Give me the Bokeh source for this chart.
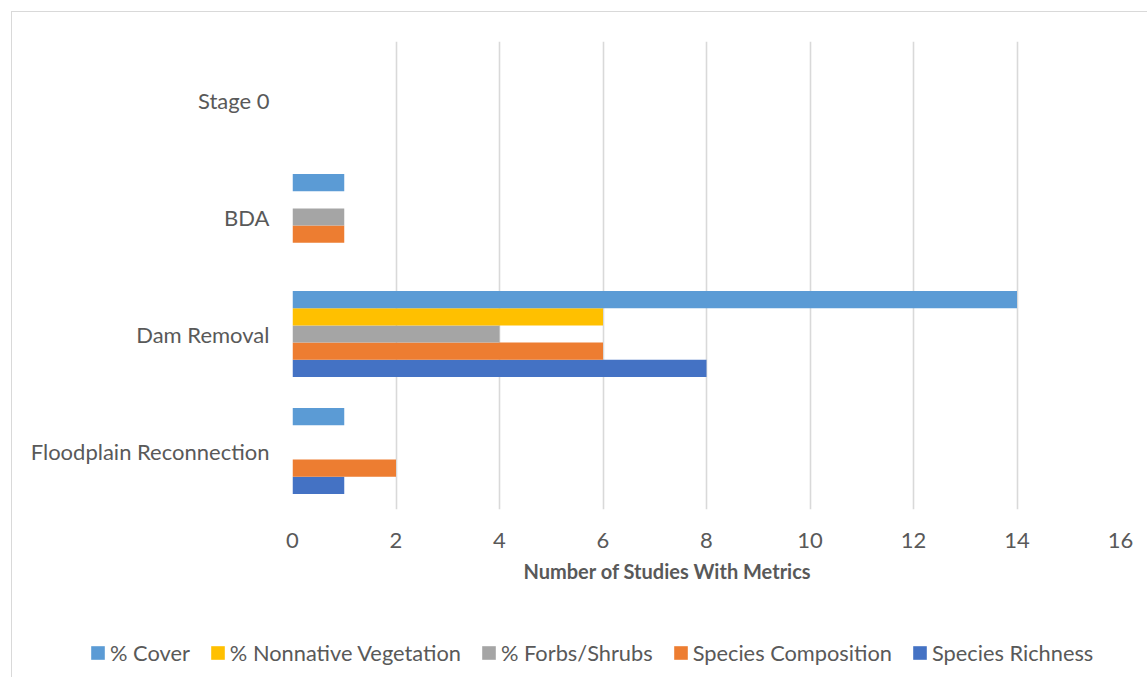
from bokeh.plotting import figure
from bokeh.layouts import column
from bokeh.models import (ColumnDataSource, FactorRange, Range1d, FixedTicker,
                          Legend, LegendItem, Title)
from bokeh.transform import dodge
from bokeh.embed import file_html
from bokeh.resources import INLINE

# ---- data (categories listed bottom to top) ----
categories = ["Floodplain Reconnection", "Dam Removal", "BDA", "Stage 0"]
species_richness = [1, 8, 0, 0]
species_composition = [2, 6, 1, 0]
forbs_shrubs = [0, 4, 1, 0]
nonnative_vegetation = [0, 6, 0, 0]
cover = [1, 14, 1, 0]
x_ticks = [0, 2, 4, 6, 8, 10, 12, 14, 16]

series_names = ["Species Richness", "Species Composition", "% Forbs/Shrubs",
                "% Nonnative Vegetation", "% Cover"]
series_values = [species_richness, species_composition, forbs_shrubs,
                 nonnative_vegetation, cover]
series_colors = ["#4472C4", "#ED7D31", "#A5A5A5", "#FFC000", "#5B9BD5"]
legend_order = ["% Cover", "% Nonnative Vegetation", "% Forbs/Shrubs",
                "Species Composition", "Species Richness"]

FONT = "Lato"
TXT = "#595959"

source = ColumnDataSource(dict(
    cat=categories,
    s0=species_richness, s1=species_composition, s2=forbs_shrubs,
    s3=nonnative_vegetation, s4=cover,
))

p = figure(width=1135, height=610, output_backend="svg", toolbar_location=None,
           y_range=FactorRange(*categories), x_range=Range1d(0, 16),
           min_border_left=280, min_border_right=27, min_border_top=29,
           min_border_bottom=113)
p.frame_align = False
p.outline_line_color = None
p.background_fill_color = "white"
p.border_fill_color = "white"

bar_h = 0.147
for i, (name, col) in enumerate(zip(series_names, series_colors)):
    off = (i - 2) * bar_h
    p.hbar(y=dodge("cat", off, range=p.y_range), right="s%d" % i, left=0,
           height=bar_h, source=source, fill_color=col, line_color=None)

# axes
p.xaxis.ticker = FixedTicker(ticks=x_ticks)
p.xaxis.axis_line_color = None
p.xaxis.major_tick_line_color = None
p.xaxis.minor_tick_line_color = None
p.xaxis.major_tick_out = 0
p.xaxis.major_label_standoff = 23
p.xaxis.major_label_text_font = FONT
p.xaxis.major_label_text_font_size = "22px"
p.xaxis.major_label_text_color = TXT

p.yaxis.axis_line_color = None
p.yaxis.major_tick_line_color = None
p.yaxis.major_tick_out = 0
p.yaxis.major_label_standoff = 23
p.yaxis.major_label_text_font = FONT
p.yaxis.major_label_text_font_size = "22px"
p.yaxis.major_label_text_color = TXT

p.xgrid.grid_line_color = "#D9D9D9"
p.xgrid.grid_line_width = 1.6
p.ygrid.grid_line_color = None

# axis title (offset left as in the reference)
x_title = Title(text="Number of Studies With Metrics", align="left", offset=231,
                text_font=FONT, text_font_style="bold", text_font_size="20px",
                text_color=TXT, standoff=12)
p.add_layout(x_title, "below")

# legend strip
lg = figure(width=1135, height=55, output_backend="svg", toolbar_location=None,
            x_range=Range1d(0, 1), y_range=Range1d(0, 1),
            min_border_left=0, min_border_right=0, min_border_top=0,
            min_border_bottom=0)
lg.frame_align = False
lg.axis.visible = False
lg.grid.visible = False
lg.outline_line_color = None
lg.border_fill_color = "white"
leg_renderers = {}
for name, col in zip(series_names, series_colors):
    # zero-length swatch carriers (invisible in the strip itself)
    leg_renderers[name] = lg.hbar(y=[0.5], right=[0], left=[0], height=0.5,
                                  fill_color=col, line_color=None)
legend = Legend(items=[LegendItem(label=n, renderers=[leg_renderers[n]]) for n in legend_order],
                orientation="horizontal", location=(77, 11),
                glyph_width=17, glyph_height=17, label_standoff=4, spacing=19,
                padding=0, margin=0, border_line_color=None,
                background_fill_alpha=0,
                label_text_font=FONT, label_text_font_size="21.8px",
                label_text_color=TXT)
lg.add_layout(legend)

layout = column(p, lg, spacing=0)
layout.margin = (11, 0, 0, 11)
layout.styles = {"border-left": "1px solid #D9D9D9", "border-top": "1px solid #D9D9D9"}

open("out.html", "w").write(file_html(layout, INLINE))
